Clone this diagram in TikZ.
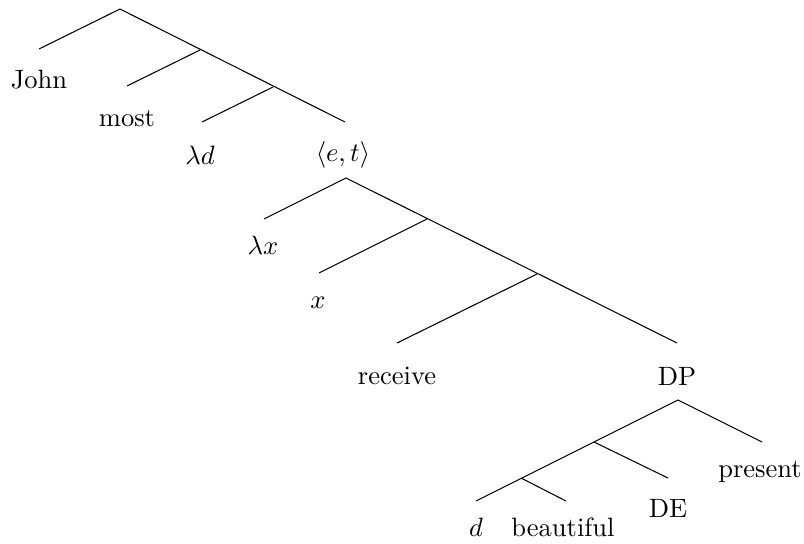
\documentclass[tikz,border=0pt]{standalone}
\usepackage{amsmath,amssymb}

\begin{document}
\begin{tikzpicture}[
  x=0.377pt,y=-0.377pt,
  branch/.style={line width=0.4pt,black},
  every node/.style={inner sep=0pt,font=\normalsize}
]
  \useasboundingbox (0,0) rectangle (804,543);

  % upper part
  \coordinate (s0) at (120,9);
  \coordinate (s1) at (200,50);
  \coordinate (s2) at (273,87);
  \coordinate (johnend) at (39,49);
  \coordinate (mostend) at (127,86);
  \coordinate (ldend) at (202,122);
  \coordinate (etend) at (345,122);

  \draw[branch] (johnend) -- (s0) -- (etend);
  \draw[branch] (mostend) -- (s1);
  \draw[branch] (ldend) -- (s2);

  \node (john) at (39,80) {John};
  \node (most) at (127,118) {most};
  \node (ld) at (200,155) {$\lambda d$};
  \node (et) at (343,155) {$\langle e,t\rangle$};

  % <e,t> part
  \coordinate (t0) at (346,178);
  \coordinate (t1) at (427,219);
  \coordinate (t2) at (537,274);
  \coordinate (lxend) at (264,219);
  \coordinate (xend) at (319,273);
  \coordinate (recvend) at (397,343);
  \coordinate (dpend) at (677,343);

  \draw[branch] (lxend) -- (t0) -- (dpend);
  \draw[branch] (xend) -- (t1);
  \draw[branch] (recvend) -- (t2);

  \node (lx) at (263,245) {$\lambda x$};
  \node (x) at (318,303) {$x$};
  \node (recv) at (397,376) {receive};
  \node (dp) at (677,376) {DP};

  % DP part
  \coordinate (u0) at (678,400);
  \coordinate (u1) at (594,442);
  \coordinate (u2) at (521,478);
  \coordinate (presentend) at (762,442);
  \coordinate (deend) at (668,478);
  \coordinate (dend) at (476,501);
  \coordinate (beauend) at (566,501);

  \draw[branch] (dend) -- (u0) -- (presentend);
  \draw[branch] (u1) -- (deend);
  \draw[branch] (u2) -- (beauend);

  \node (present) at (760,472) {present};
  \node (de) at (668,508) {DE};
  \node (d) at (476,527) {$d$};
  \node (beau) at (563,527) {beautiful};
\end{tikzpicture}
\end{document}
